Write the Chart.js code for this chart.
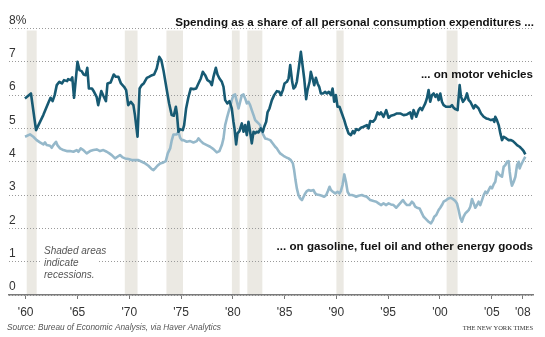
<!DOCTYPE html>
<html>
<head>
<meta charset="utf-8">
<title>Spending on motor vehicles and energy goods</title>
<script src="https://cdn.jsdelivr.net/npm/chart.js@4/dist/chart.umd.min.js"></script>
<style>
  html, body { margin: 0; padding: 0; background: #fff; }
  #wrap { position: relative; width: 545px; height: 337px; }
  canvas { display: block; }
</style>
</head>
<body>
<div id="wrap"><canvas id="c" width="545" height="337"></canvas></div>
<script>
// Share of all personal consumption expenditures, percent (quarterly readings)
const mvYears = [1959.93,1960.51,1961.0,1961.7,1962.2,1962.4,1962.6,1962.8,1963.0,1963.25,1963.5,1963.7,1964.0,1964.1,1964.35,1964.5,1964.67,1965.0,1965.2,1965.4,1965.6,1965.8,1965.95,1966.1,1966.4,1966.6,1966.85,1967.0,1967.3,1967.5,1967.75,1967.9,1968.2,1968.5,1968.7,1968.95,1969.2,1969.5,1969.7,1969.9,1970.15,1970.4,1970.55,1970.8,1971.0,1971.2,1971.4,1971.7,1971.9,1972.2,1972.4,1972.65,1972.9,1973.1,1973.3,1973.6,1973.85,1974.1,1974.3,1974.5,1974.6,1974.75,1974.9,
  1975.17,1975.3,1975.49,1975.72,1975.94,1976.2,1976.46,1976.68,1976.91,1977.1,1977.33,1977.55,1977.81,1977.97,1978.13,1978.36,1978.52,1978.71,1978.94,1979.1,1979.26,1979.48,1979.68,1979.9,1980.06,1980.16,1980.32,1980.45,1980.64,1980.87,1981.03,1981.19,1981.35,1981.51,1981.67,1981.83,1982.0,1982.16,1982.32,1982.48,1982.7,1982.9,1983.03,1983.22,1983.35,1983.54,1983.77,1983.99,1984.25,1984.48,1984.64,1984.83,1984.99,1985.22,1985.38,1985.54,1985.73,1985.86,1986.02,1986.18,1986.38,1986.57,1986.73,1986.89,1987.08,1987.21,1987.41,1987.53,1987.7,1987.86,1988.02,1988.18,1988.34,1988.5,1988.7,1988.92,1989.08,1989.27,1989.47,1989.63,1989.79,1989.95,1990.11,1990.3,1990.53,1990.76,1990.95,1991.17,1991.4,1991.59,1991.72,1991.91,1992.14,1992.37,1992.62,
  1992.94,1993.1,1993.27,1993.52,1993.75,1993.97,1994.17,1994.3,1994.55,1994.81,1995.04,1995.26,1995.52,1995.84,1996.16,1996.49,1996.81,1997.13,1997.29,1997.45,1997.71,1997.94,1998.1,1998.26,1998.42,1998.58,1998.74,1998.9,1999.06,1999.22,1999.39,1999.55,1999.71,1999.87,2000.03,2000.19,2000.35,2000.61,2000.83,2000.99,2001.16,2001.32,2001.48,2001.7,2001.9,2002.03,2002.22,2002.45,2002.61,2002.77,2002.93,2003.25,2003.41,2003.57,2003.73,2003.96,2004.22,2004.47,2004.7,2004.92,2005.12,2005.25,2005.34,2005.5,2005.67,2005.83,2005.99,2006.15,2006.41,2006.63,2006.86,2007.05,2007.28,2007.44,2007.69,2007.92,2008.08,2008.24];
const mvShare = [5.9,6.05,4.95,5.4,5.78,5.92,5.82,6.0,6.3,6.4,6.35,6.45,6.42,6.48,6.45,6.53,5.92,7.0,6.75,6.72,6.62,6.6,6.82,6.2,6.2,6.1,5.95,5.7,6.12,5.98,5.82,6.35,6.38,6.62,6.55,6.55,6.35,6.25,6.15,5.7,5.8,5.7,5.4,4.75,6.2,6.3,6.35,6.52,6.55,6.6,6.62,6.8,7.15,7.05,6.75,6.2,5.75,5.4,5.38,5.65,5.45,4.9,4.98,
  4.95,5.1,5.6,5.95,6.2,6.18,6.2,6.35,6.5,6.7,6.6,6.45,6.4,6.3,6.55,6.82,6.62,6.5,6.4,6.25,5.85,5.75,5.82,5.6,5.2,5.0,4.52,4.85,4.92,5.15,4.9,5.1,4.8,5.2,4.9,4.55,4.9,4.85,4.9,4.88,5.0,4.9,5.05,5.2,5.48,5.6,5.85,6.0,6.12,6.1,6.0,6.15,6.35,6.4,6.5,6.9,6.4,6.2,6.25,6.4,6.85,7.3,6.9,6.5,5.88,6.15,6.4,6.7,6.5,6.3,6.52,6.35,6.25,6.05,6.05,6.1,6.05,6.1,6.0,6.2,5.8,6.0,5.65,5.65,5.45,5.25,5.05,4.85,4.8,4.92,4.85,4.98,4.95,5.02,5.05,
  5.1,5.0,5.22,5.2,5.28,5.48,5.42,5.48,5.35,5.55,5.32,5.38,5.4,5.45,5.45,5.4,5.42,5.48,5.3,5.55,5.35,5.55,5.62,5.55,5.65,5.75,5.9,6.15,5.8,6.0,6.05,5.95,6.02,5.85,6.05,5.8,5.7,5.65,5.65,5.65,5.7,5.62,5.58,5.55,6.3,5.95,5.8,5.9,6.05,5.85,5.8,5.6,5.7,5.65,5.6,5.45,5.35,5.3,5.28,5.25,5.27,5.2,5.35,5.25,5.1,4.85,4.65,4.75,4.7,4.65,4.65,4.62,4.55,4.5,4.45,4.38,4.32,4.22];

const energyYears = [1959.94,1960.42,1960.74,1961.06,1961.38,1961.71,1961.87,1962.03,1962.35,1962.51,1962.67,1962.93,1963.06,1963.32,1963.64,1963.96,1964.28,1964.61,1964.93,1965.09,1965.31,1965.57,1965.89,1966.22,1966.54,1966.86,1967.18,1967.5,1967.83,1968.08,1968.31,1968.63,1968.86,1969.11,1969.37,1969.6,1969.92,1970.24,1970.56,1970.89,1971.21,1971.53,1971.85,1972.17,1972.34,1972.5,1972.72,1972.98,1973.3,1973.53,1973.72,1973.95,1974.11,1974.27,1974.59,1974.75,1974.91,1975.07,
  1975.23,1975.55,1975.88,1976.2,1976.52,1976.68,1976.91,1977.16,1977.49,1977.81,1978.13,1978.45,1978.71,1978.94,1979.1,1979.26,1979.42,1979.58,1979.74,1979.9,1980.06,1980.22,1980.39,1980.55,1980.71,1980.87,1981.03,1981.19,1981.35,1981.51,1981.67,1981.83,1982.0,1982.16,1982.32,1982.48,1982.64,1982.8,1982.96,1983.12,1983.35,1983.61,1983.86,1984.09,1984.25,1984.41,1984.57,1984.89,1985.22,1985.38,1985.6,1985.8,1985.92,1986.05,1986.18,1986.34,1986.5,1986.67,1986.83,1986.99,1987.15,1987.31,1987.53,1987.79,1987.95,1988.11,1988.37,1988.6,1988.82,1989.02,1989.18,1989.34,1989.47,1989.66,1989.89,1990.11,1990.3,1990.43,1990.59,1990.76,1990.92,1991.08,1991.27,1991.5,1991.72,1991.91,1992.14,1992.46,
  1992.62,1992.94,1993.27,1993.59,1993.85,1994.07,1994.3,1994.55,1994.81,1995.04,1995.26,1995.52,1995.78,1996.0,1996.23,1996.42,1996.65,1996.81,1997.07,1997.29,1997.45,1997.61,1997.78,1998.03,1998.26,1998.42,1998.58,1998.74,1998.9,1999.13,1999.32,1999.45,1999.64,1999.87,2000.03,2000.19,2000.35,2000.61,2000.83,2001.06,2001.25,2001.48,2001.64,2001.8,2001.96,2002.12,2002.28,2002.45,2002.61,2002.77,2002.93,2003.09,2003.25,2003.41,2003.57,2003.73,2003.89,2004.06,2004.22,2004.38,2004.54,2004.7,2004.86,2005.02,2005.18,2005.34,2005.5,2005.76,2005.99,2006.15,2006.31,2006.47,2006.63,2006.73,2006.86,2006.95,2007.12,2007.28,2007.44,2007.6,2007.69,2007.82,2007.98,2008.15,2008.24];
const energyShare = [4.75,4.82,4.75,4.65,4.58,4.52,4.58,4.5,4.48,4.42,4.5,4.6,4.5,4.4,4.35,4.32,4.32,4.3,4.35,4.3,4.4,4.35,4.25,4.32,4.35,4.37,4.32,4.35,4.3,4.25,4.2,4.1,4.15,4.2,4.13,4.1,4.08,4.05,4.05,4.05,4.0,3.95,3.88,3.78,3.75,3.8,3.88,3.95,3.98,4.02,4.25,4.4,4.65,4.82,4.82,4.9,4.72,4.65,
  4.65,4.6,4.62,4.58,4.62,4.7,4.62,4.55,4.5,4.45,4.38,4.28,4.32,4.5,4.7,5.1,5.3,5.48,5.65,5.85,6.0,6.02,5.8,5.6,5.8,6.0,6.02,5.9,5.75,5.8,5.7,5.55,5.4,5.25,5.2,5.15,5.1,4.9,4.8,4.7,4.68,4.65,4.55,4.45,4.4,4.32,4.25,4.18,4.12,4.1,4.05,3.95,3.75,3.45,3.2,3.0,2.9,2.85,2.95,3.05,3.12,3.15,3.13,3.15,3.05,3.02,3.0,2.98,2.95,3.0,3.12,3.25,3.15,3.1,3.05,3.1,3.05,3.12,3.3,3.62,3.4,3.1,3.0,3.0,2.98,2.95,2.98,3.0,
  2.98,2.95,2.85,2.82,2.8,2.75,2.7,2.75,2.7,2.75,2.72,2.7,2.62,2.7,2.78,2.85,2.75,2.7,2.7,2.8,2.75,2.65,2.62,2.6,2.45,2.35,2.3,2.25,2.2,2.15,2.25,2.35,2.4,2.55,2.62,2.7,2.8,2.85,2.9,2.92,2.88,2.82,2.75,2.55,2.32,2.2,2.35,2.45,2.5,2.55,2.65,2.88,2.75,2.62,2.7,2.8,2.7,2.85,3.0,3.1,3.05,3.15,3.25,3.2,3.32,3.4,3.7,3.6,3.55,3.85,3.9,4.0,4.02,3.7,3.4,3.28,3.4,3.55,3.9,4.0,3.8,3.9,4.0,4.1,4.15];

// Recession periods (shaded bands)
const recessionStart = [1960.1, 1969.57, 1973.59, 1979.91, 1981.4, 1990.0, 2000.64];
const recessionEnd   = [1961.06, 1970.8, 1975.19, 1980.66, 1982.85, 1990.7, 2001.7];

// Axis ticks
const xTickYears = [1960, 1965, 1970, 1975, 1980, 1985, 1990, 1995, 2000, 2005, 2008];
const yTickValues = [0, 1, 2, 3, 4, 5, 6, 7, 8];

const SANS = '"Liberation Sans", Arial, Helvetica, sans-serif';
const DARK = '#175a73';
const LIGHT = '#95b8ca';

const toPoints = (xs, ys) => xs.map((x, i) => ({ x: x, y: ys[i] }));

// Shaded recession bands behind the grid and lines
const recessionBands = {
  id: 'recessionBands',
  beforeDraw(chart) {
    const { ctx, chartArea, scales } = chart;
    ctx.save();
    ctx.fillStyle = '#ebe9e3';
    const top = chartArea.top + 2;
    const bottom = scales.y.getPixelForValue(0);
    recessionStart.forEach((s, i) => {
      const x0 = scales.x.getPixelForValue(s);
      const x1 = scales.x.getPixelForValue(recessionEnd[i]);
      ctx.fillRect(x0, top, x1 - x0, bottom - top);
    });
    ctx.restore();
  }
};

// Headline, series labels, note and credits
const notes = {
  id: 'notes',
  afterDraw(chart) {
    const ctx = chart.ctx;
    ctx.save();
    ctx.textBaseline = 'alphabetic';

    ctx.fillStyle = '#111';
    ctx.textAlign = 'right';
    ctx.font = 'bold 11.6px ' + SANS;
    ctx.fillText('Spending as a share of all personal consumption expenditures ...', 534, 26);
    ctx.fillText('... on motor vehicles', 533, 78);
    ctx.fillText('... on gasoline, fuel oil and other energy goods', 533, 250);

    // white block so the note sits clear of the grid
    ctx.fillStyle = '#fff';
    ctx.fillRect(41, 242, 56, 39);
    ctx.fillStyle = '#555';
    ctx.textAlign = 'left';
    ctx.font = 'italic 10px ' + SANS;
    ctx.fillText('Shaded areas', 44, 254);
    ctx.fillText('indicate', 44, 266);
    ctx.fillText('recessions.', 44, 278);

    ctx.font = 'italic 8.3px ' + SANS;
    ctx.fillText('Source: Bureau of Economic Analysis, via Haver Analytics', 7, 330);

    ctx.fillStyle = '#333';
    ctx.textAlign = 'right';
    ctx.font = '6.5px "Liberation Serif", "Times New Roman", serif';
    ctx.fillText('THE NEW YORK TIMES', 533, 330);
    ctx.restore();
  }
};

new Chart(document.getElementById('c'), {
  type: 'line',
  data: {
    datasets: [
      {
        label: 'Motor vehicles',
        data: toPoints(mvYears, mvShare),
        borderColor: DARK,
        borderWidth: 2.6,
        pointRadius: 0,
        tension: 0,
        borderJoinStyle: 'round',
        order: 0
      },
      {
        label: 'Gasoline, fuel oil and other energy goods',
        data: toPoints(energyYears, energyShare),
        borderColor: LIGHT,
        borderWidth: 2.6,
        pointRadius: 0,
        tension: 0,
        borderJoinStyle: 'round',
        order: 1
      }
    ]
  },
  options: {
    responsive: false,
    devicePixelRatio: 1,
    animation: false,
    events: [],
    layout: { padding: { left: 9, right: 11.5, top: 28.5, bottom: 14 } },
    plugins: { legend: { display: false }, tooltip: { enabled: false } },
    scales: {
      x: {
        type: 'linear',
        min: 1958.39,
        max: 2009.03,
        afterBuildTicks: (scale) => { scale.ticks = xTickYears.map(v => ({ value: v })); },
        afterFit: (scale) => { scale.height = 28; },
        ticks: {
          autoSkip: false,
          maxRotation: 0,
          padding: 6,
          color: '#333',
          font: { family: SANS, size: 12 },
          callback: (v) => "'" + String(v).slice(2)
        },
        grid: { drawOnChartArea: false, drawTicks: true, tickLength: 4, color: '#777', lineWidth: 1 },
        border: { display: true, color: '#7a7a7a', width: 1.6 }
      },
      y: {
        min: 0,
        max: 8,
        afterBuildTicks: (scale) => { scale.ticks = yTickValues.map(v => ({ value: v })); },
        afterFit: (scale) => { scale.width = 0; },
        ticks: {
          mirror: true,
          padding: 0,
          labelOffset: -8,
          color: '#333',
          font: { family: SANS, size: 12 },
          callback: (v) => (v === 8 ? '8%' : String(v))
        },
        grid: { drawTicks: false, color: '#9a9a9a', lineWidth: 1 },
        border: { display: false, dash: [1, 2] }
      }
    }
  },
  plugins: [recessionBands, notes]
});
</script>
</body>
</html>
